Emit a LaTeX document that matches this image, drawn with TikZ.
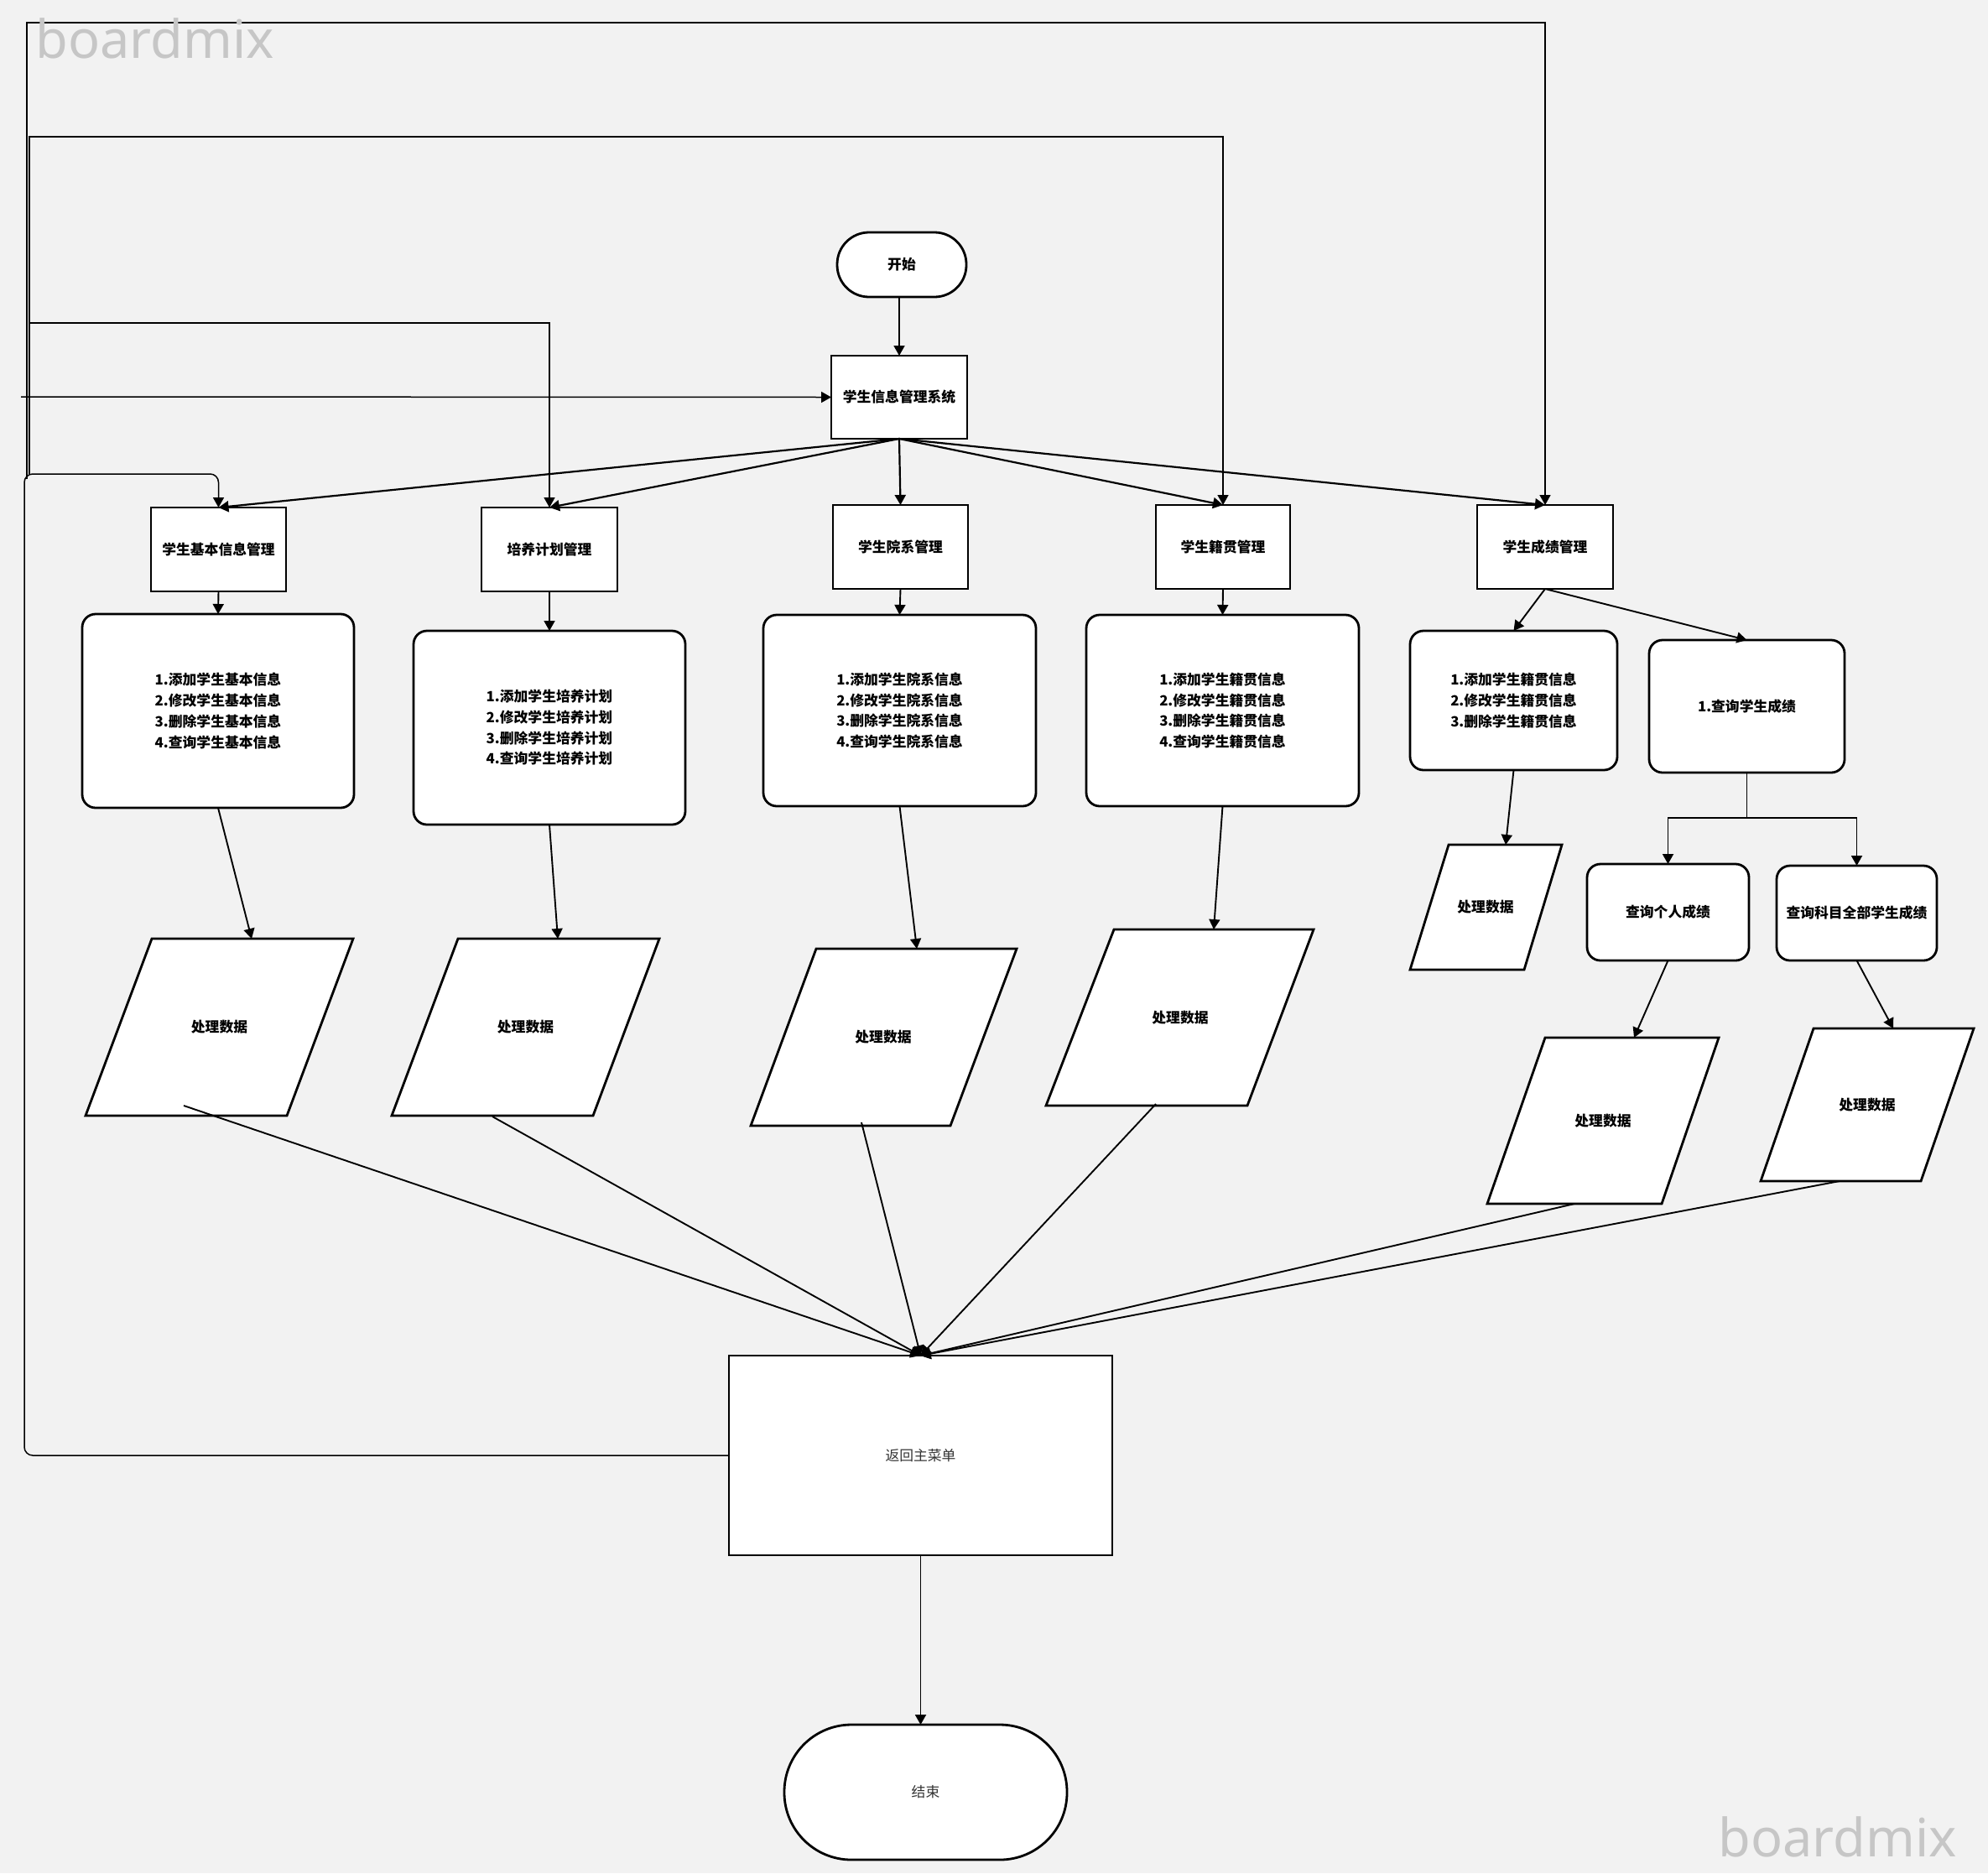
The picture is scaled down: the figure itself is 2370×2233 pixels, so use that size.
\documentclass[tikz,border=0pt]{standalone}
\usepackage{fontspec}
\usetikzlibrary{arrows.meta}
\newfontfamily\cjk{Noto Sans CJK SC}
\newfontfamily\wmfont{Noto Sans}
\definecolor{bgc}{HTML}{F2F2F2}
\definecolor{wmc}{HTML}{C6C6C6}
\definecolor{txtgray}{HTML}{333333}
\begin{document}
\begin{tikzpicture}[x=0.5pt,y=-0.5pt,
  box/.style={draw, line width=1.4pt, fill=white, inner sep=0pt, outer sep=0pt,
    font=\cjk\bfseries\fontsize{8.4pt}{12.35pt}\selectfont, align=center},
  rbox/.style={box, rounded corners=8pt},
  term/.style={box, font=\cjk\fontsize{8.4pt}{12.35pt}\selectfont, text=txtgray},
  pg/.style={draw, line width=1.4pt, fill=white, line join=miter},
  pgtext/.style={inner sep=0pt, font=\cjk\bfseries\fontsize{8.4pt}{12.35pt}\selectfont},
  arr/.style={-{Triangle[length=6pt,width=6.5pt]}, line width=0.95pt},
  fan/.style={arr, line width=1.1pt},
  loopl/.style={line width=0.75pt},
  wm/.style={font=\wmfont\fontsize{31.5pt}{35pt}\selectfont, text=wmc, inner sep=0pt, anchor=base west}
]
\useasboundingbox (0,0) rectangle (2370,2233);
\fill[bgc] (0,0) rectangle (2370,2233);

% ---- nodes ----
\node[box, minimum width=77pt, minimum height=38.5pt, rounded corners=19pt] (start) at (1075,315.5) {开始};
\node[box, minimum width=81pt, minimum height=49.5pt] (sys) at (1072,473.5) {学生信息管理系统};

\node[box, minimum width=80.5pt, minimum height=50pt] (A1) at (260.5,655) {学生基本信息管理};
\node[box, minimum width=81pt, minimum height=50pt] (A2) at (655,655) {培养计划管理};
\node[box, minimum width=80.5pt, minimum height=50pt] (A3) at (1073.5,652) {学生院系管理};
\node[box, minimum width=80pt, minimum height=50pt] (A4) at (1458,652) {学生籍贯管理};
\node[box, minimum width=81pt, minimum height=50pt] (A5) at (1842,652) {学生成绩管理};

\node[rbox, minimum width=162pt, minimum height=115.5pt] (B1) at (260,847.5)
  {1.添加学生基本信息\\2.修改学生基本信息\\3.删除学生基本信息\\4.查询学生基本信息};
\node[rbox, minimum width=162pt, minimum height=115.5pt] (B2) at (655,867.5)
  {1.添加学生培养计划\\2.修改学生培养计划\\3.删除学生培养计划\\4.查询学生培养计划};
\node[rbox, minimum width=162.5pt, minimum height=114pt] (B3) at (1072.5,847)
  {1.添加学生院系信息\\2.修改学生院系信息\\3.删除学生院系信息\\4.查询学生院系信息};
\node[rbox, minimum width=162.5pt, minimum height=114pt] (B4) at (1457.5,847)
  {1.添加学生籍贯信息\\2.修改学生籍贯信息\\3.删除学生籍贯信息\\4.查询学生籍贯信息};
\node[rbox, minimum width=123.5pt, minimum height=83pt] (B5a) at (1804.5,835)
  {1.添加学生籍贯信息\\2.修改学生籍贯信息\\3.删除学生籍贯信息};
\node[rbox, minimum width=116.5pt, minimum height=79pt] (B5b) at (2082.5,842) {1.查询学生成绩};
\node[rbox, minimum width=96.5pt, minimum height=57.5pt] (C1) at (1988.5,1087.5) {查询个人成绩};
\node[rbox, minimum width=95.5pt, minimum height=56.5pt] (C2) at (2213.5,1088.5) {查询科目全部学生成绩};

\node[term, minimum width=228.5pt, minimum height=119pt] (ret) at (1097.5,1735) {返回主菜单};
\node[term, minimum width=168.5pt, minimum height=80.5pt, rounded corners=40pt] (end) at (1103.5,2136.5) {结束};

% ---- parallelograms ----
\draw[pg] (181,1119) -- (421,1119) -- (342,1330) -- (102,1330) -- cycle;
\node[pgtext] (P1) at (261.5,1224.5) {处理数据};
\draw[pg] (546,1119) -- (786,1119) -- (707,1330) -- (467,1330) -- cycle;
\node[pgtext] (P2) at (626.5,1224.5) {处理数据};
\draw[pg] (973,1131) -- (1212,1131) -- (1133,1342) -- (895,1342) -- cycle;
\node[pgtext] (P3) at (1053,1236) {处理数据};
\draw[pg] (1328,1108) -- (1566,1108) -- (1487,1318) -- (1247,1318) -- cycle;
\node[pgtext] (P4) at (1407,1213) {处理数据};
\draw[pg] (1727,1007) -- (1862,1007) -- (1817,1156) -- (1681,1156) -- cycle;
\node[pgtext] (P5) at (1771,1081.5) {处理数据};
\draw[pg] (1842,1237) -- (2049,1237) -- (1981,1435) -- (1773,1435) -- cycle;
\node[pgtext] (P6) at (1911,1336) {处理数据};
\draw[pg] (2162,1226) -- (2353,1226) -- (2290,1408) -- (2099,1408) -- cycle;
\node[pgtext] (P7) at (2226,1317) {处理数据};

\coordinate (P1in) at (300,1119);   \coordinate (P1out) at (219,1318);
\coordinate (P2in) at (665,1119);   \coordinate (P2out) at (587,1331);
\coordinate (P3in) at (1093,1131);  \coordinate (P3out) at (1027,1338);
\coordinate (P4in) at (1447,1108);  \coordinate (P4out) at (1378,1316);
\coordinate (P5in) at (1795,1007);
\coordinate (P6in) at (1948,1237);  \coordinate (P6out) at (1877,1435);
\coordinate (P7in) at (2257,1226);  \coordinate (P7out) at (2193,1408);

% ---- connectors ----
\draw[arr] (sys.north |- start.south) -- (sys.north);
\foreach \t in {A1,A2,A3,A4,A5} \draw[fan] (sys.south) -- (\t.north);
\foreach \a/\b in {A1/B1,A2/B2,A3/B3,A4/B4} \draw[arr] (\a.south) -- (\b.north);
\draw[arr] (A5.south) -- (B5a.north);
\draw[arr] (A5.south) -- (B5b.north);

\draw[arr] (B1.south) -- (P1in);
\draw[arr] (B2.south) -- (P2in);
\draw[arr] (B3.south) -- (P3in);
\draw[arr] (B4.south) -- (P4in);
\draw[arr] (B5a.south) -- (P5in);

\coordinate (fork) at (2082.5,975);
\draw[arr] (B5b.south) -- (fork) -| (C1.north);
\draw[arr] (fork) -| (C2.north);
\draw[arr] (C1.south) -- (P6in);
\draw[arr] (C2.south) -- (P7in);

\foreach \p in {P1out,P2out,P3out,P4out,P6out,P7out} \draw[arr] (\p) -- (ret.north);
\draw[arr] (ret.south) -- (ret.south |- end.north);

% ---- return loops on the left ----
\coordinate (j1) at (32,571);
\coordinate (j2) at (35,565);
\coordinate (j3) at (25,473);
\draw[arr, loopl, rounded corners=5pt] (ret.west) -| (29,565) -| (A1.north);
\draw[arr, loopl] (j1) |- (A5.north |- 0,27) -- (A5.north);
\draw[arr, loopl] (j2) |- (A4.north |- 0,163) -- (A4.north);
\draw[arr, loopl] (j2) |- (A2.north |- 0,385) -- (A2.north);
\draw[arr, loopl] (j3) -- (sys.west);

% ---- watermarks ----
\node[wm] (wm1) at (42,69) {boardmix};
\node[wm] (wm2) at (2048,2213) {boardmix};
\end{tikzpicture}
\end{document}
